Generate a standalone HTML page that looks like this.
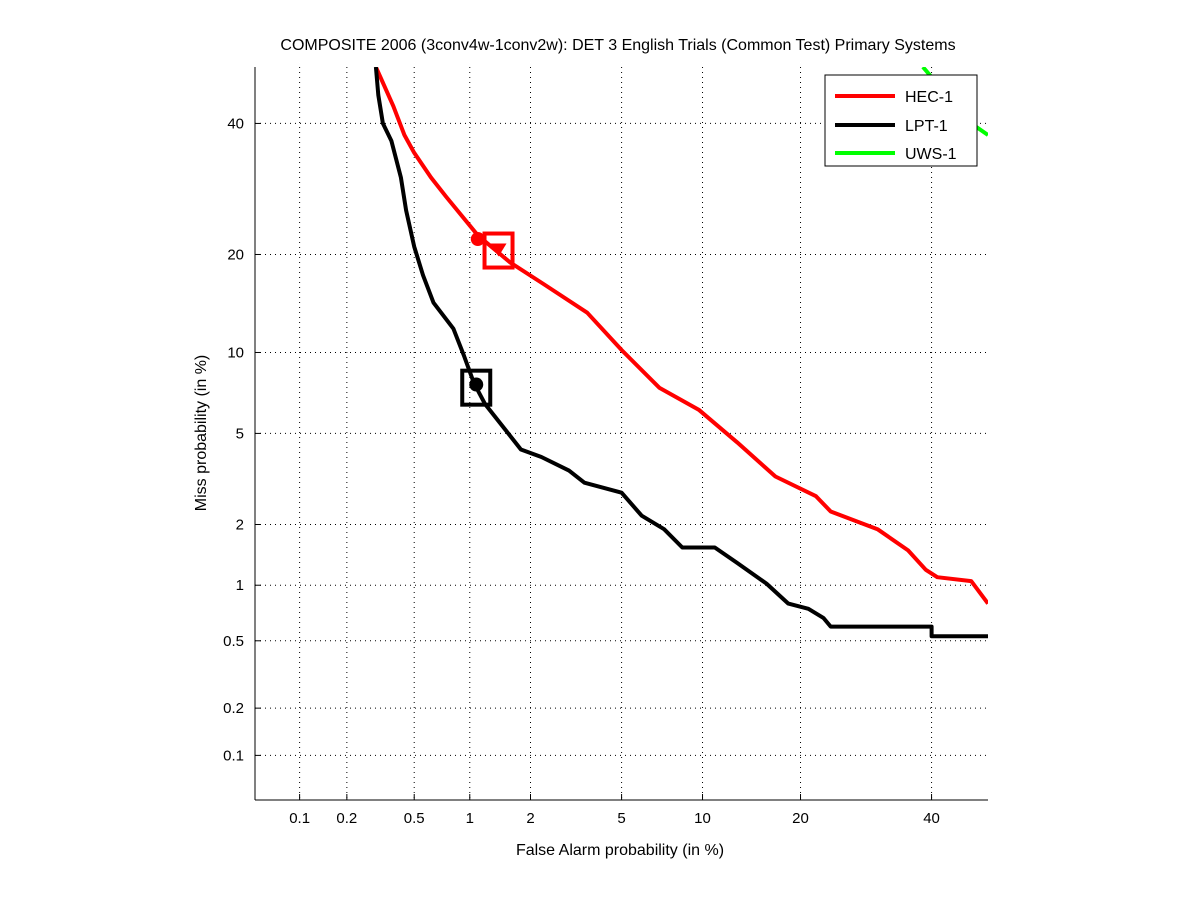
<!DOCTYPE html>
<html><head><meta charset="utf-8"><style>
body{margin:0;background:#fff;}
svg{display:block;font-family:"Liberation Sans",sans-serif;}
</style></head><body>
<svg id="chart" width="1201" height="900">
<rect width="1201" height="900" fill="#fff"/>
<g id="grid"></g><g id="axes"></g>
<defs><clipPath id="plotclip"><rect x="255" y="67" width="733" height="733"/></clipPath></defs>
<g id="series" clip-path="url(#plotclip)"></g>
<g id="markers"></g>
<text x="618" y="50" text-anchor="middle" font-size="16">COMPOSITE 2006 (3conv4w-1conv2w): DET 3 English Trials (Common Test) Primary Systems</text>
<text x="620" y="855" text-anchor="middle" font-size="16">False Alarm probability (in %)</text>
<text transform="translate(206,433) rotate(-90)" text-anchor="middle" font-size="16">Miss probability (in %)</text>
<g>
<rect x="825" y="75" width="152" height="91" fill="#fff" stroke="#000" stroke-width="1"/>
<line x1="835" y1="96" x2="895" y2="96" stroke="#f00" stroke-width="4"/>
<text x="905" y="102" font-size="16">HEC-1</text>
<line x1="835" y1="125" x2="895" y2="125" stroke="#000" stroke-width="4"/>
<text x="905" y="131" font-size="16">LPT-1</text>
<line x1="835" y1="153" x2="895" y2="153" stroke="#0f0" stroke-width="4"/>
<text x="905" y="159" font-size="16">UWS-1</text>
</g>
</svg>
<script>
const xTicks=[0.1,0.2,0.5,1,2,5,10,20,40];
const yTicks=[0.1,0.2,0.5,1,2,5,10,20,40];
const hecFA=[0.3,0.38,0.44,0.5,0.62,0.75,1.1,1.6,2.3,3.6,5,7,9.7,13,17,22,24,31,36,39,41,47,50];
const hecMiss=[50,43,38,35,31,28,22.5,19,16.5,13.5,10.2,7.5,6.2,4.6,3.3,2.7,2.3,1.9,1.5,1.2,1.1,1.05,0.8];
const lptFA=[0.3,0.31,0.33,0.37,0.42,0.45,0.5,0.56,0.64,0.82,0.93,1.05,1.2,1.45,1.8,2.25,3,3.5,5,6,7.3,8.5,11,13,16,18.5,21,23,24,40,40,50];
const lptMiss=[50,45,40,37,31,26,21,17.5,14.5,12,9.8,7.8,6.5,5.4,4.3,4,3.5,3.1,2.8,2.2,1.9,1.55,1.55,1.3,1.02,0.8,0.75,0.67,0.6,0.6,0.53,0.53];
const uwsFA=[38.5,41,44,47,50];
const uwsMiss=[50,47,44,40,38];
const hecPoints={actFA:1.1,actMiss:22,minFA:1.4,minMiss:20.5};
const lptPoints={actFA:1.08,actMiss:7.7,minFA:1.08,minMiss:7.5};

function probit(p){
 const a=[-39.69683028665376,220.9460984245205,-275.9285104469687,138.3577518672690,-30.66479806614716,2.506628277459239];
 const b=[-54.47609879822406,161.5858368580409,-155.6989798598866,66.80131188771972,-13.28068155288572];
 const c=[-0.007784894002430293,-0.3223964580411365,-2.400758277161838,-2.549732539343734,4.374664141464968,2.938163982698783];
 const d=[0.007784695709041462,0.3224671290700398,2.445134137142996,3.754408661907416];
 let q,r;
 if(p<0.02425){q=Math.sqrt(-2*Math.log(p));return (((((c[0]*q+c[1])*q+c[2])*q+c[3])*q+c[4])*q+c[5])/((((d[0]*q+d[1])*q+d[2])*q+d[3])*q+1);}
 if(p>1-0.02425){q=Math.sqrt(-2*Math.log(1-p));return -(((((c[0]*q+c[1])*q+c[2])*q+c[3])*q+c[4])*q+c[5])/((((d[0]*q+d[1])*q+d[2])*q+d[3])*q+1);}
 q=p-0.5;r=q*q;return (((((a[0]*r+a[1])*r+a[2])*r+a[3])*r+a[4])*r+a[5])*q/(((((b[0]*r+b[1])*r+b[2])*r+b[3])*r+b[4])*r+1);
}
const L=255,T=67,W=733,H=733,zmin=probit(0.0005),zmax=0;
function sx(pct){return L+(probit(pct/100)-zmin)/(zmax-zmin)*W;}
function sy(pct){return T+H-(probit(pct/100)-zmin)/(zmax-zmin)*H;}
const NS="http://www.w3.org/2000/svg";
function mk(tag,attrs,parent){const e=document.createElementNS(NS,tag);for(const k in attrs)e.setAttribute(k,attrs[k]);parent.appendChild(e);return e;}
const grid=document.getElementById('grid'),axes=document.getElementById('axes');
xTicks.forEach(v=>{const x=sx(v);
 const g=mk('line',{x1:x,y1:T,x2:x,y2:T+H,stroke:'#000','stroke-width':1,'stroke-dasharray':'1,4'},grid);
 
 
 const t=mk('text',{x:x,y:T+H+23,'text-anchor':'middle','font-size':15},axes);t.textContent=String(v);
 
 
 mk('line',{x1:x,y1:T+H,x2:x,y2:T+H-6,stroke:'#000'},axes);
});
yTicks.forEach(v=>{const y=sy(v);
 const g=mk('line',{x1:L,y1:y,x2:L+W,y2:y,stroke:'#000','stroke-width':1,'stroke-dasharray':'1,4'},grid);
 
 
 const t=mk('text',{x:L-11,y:y+5,'text-anchor':'end','font-size':15},axes);t.textContent=String(v);
 
 
 mk('line',{x1:L,y1:y,x2:L+6,y2:y,stroke:'#000'},axes);
});
mk('line',{x1:L,y1:T,x2:L,y2:T+H,stroke:'#000'},axes);
mk('line',{x1:L,y1:T+H,x2:L+W,y2:T+H,stroke:'#000'},axes);
const series=document.getElementById('series');
function curve(fa,miss,color,name){
 const pts=fa.map((f,i)=>sx(f).toFixed(1)+','+sy(miss[i]).toFixed(1)).join(' ');
 const p=mk('polyline',{points:pts,fill:'none',stroke:color,'stroke-width':4,'stroke-linejoin':'round'},series);
 
 
}
curve(uwsFA,uwsMiss,'#0f0','uws-1-curve');
curve(hecFA,hecMiss,'#f00','hec-1-curve');
curve(lptFA,lptMiss,'#000','lpt-1-curve');
const mg=document.getElementById('markers');
function markers(pt,color,name,tri){
 const cx=sx(pt.actFA),cy=sy(pt.actMiss);
 const c=mk('circle',{cx:cx,cy:cy,r:7,fill:color},mg);
 
 
 const mx=sx(pt.minFA),my=sy(pt.minMiss);
 const r=mk('rect',{x:mx-14,y:my-17,width:28,height:34,fill:'none',stroke:color,'stroke-width':4},mg);
 
 
 if(tri){
  const t=mk('polygon',{points:(mx-8)+','+(my-7)+' '+(mx+8)+','+(my-7)+' '+mx+','+(my+6),fill:color},mg);
  
  
 }
}
markers(hecPoints,'#f00','hec',true);
markers(lptPoints,'#000','lpt',false);
</script>
</body></html>
